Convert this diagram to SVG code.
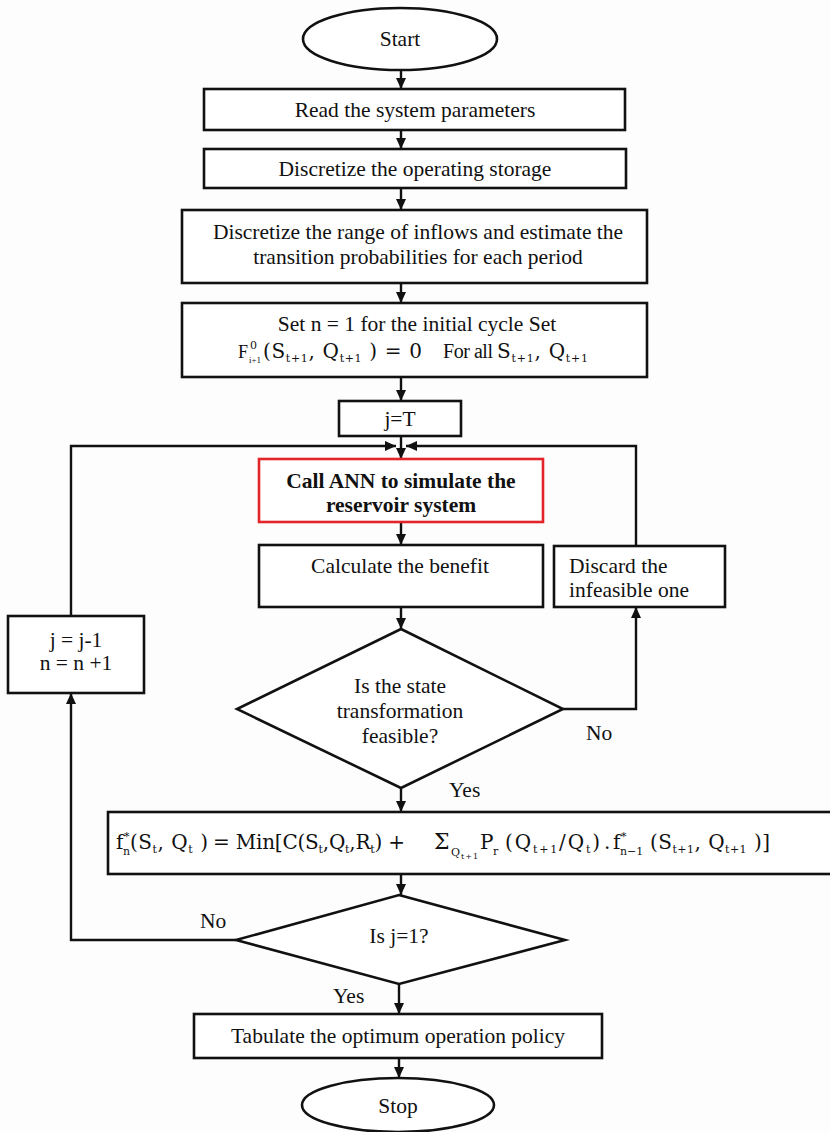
<svg xmlns="http://www.w3.org/2000/svg" width="830" height="1132" viewBox="0 0 830 1132">
<style>
.bg{fill:#fdfdfd}
.box{fill:#fff;stroke:#111;stroke-width:2.6}
.red{fill:#fff;stroke:#e3252b;stroke-width:2.6}
.ln{fill:none;stroke:#111;stroke-width:2.4}
.t{font-family:"Liberation Serif","Times New Roman",serif;font-size:21.5px;fill:#111}
.c{text-anchor:middle}
.b{font-weight:bold}
.m{font-family:"DejaVu Serif","Liberation Serif",serif;font-size:20px;fill:#111}
.m2{font-family:"DejaVu Serif","Liberation Serif",serif;font-size:20px;fill:#111}
.s{font-size:11px}
.ss{font-size:11px}
</style>
<defs>
<marker id="ah" markerUnits="userSpaceOnUse" markerWidth="12" markerHeight="12" refX="11" refY="6" orient="auto">
<path d="M0,1 L11,6 L0,11 z" fill="#111"/>
</marker>
</defs>
<rect class="bg" x="0" y="0" width="830" height="1132"/>

<g id="connectors">
<path class="ln" d="M401,70 L401,89" marker-end="url(#ah)"/>
<path class="ln" d="M401,130 L401,149" marker-end="url(#ah)"/>
<path class="ln" d="M401,188 L401,210" marker-end="url(#ah)"/>
<path class="ln" d="M401,283 L401,303" marker-end="url(#ah)"/>
<path class="ln" d="M401,377 L401,401" marker-end="url(#ah)"/>
<path class="ln" d="M401,436 L401,459" marker-end="url(#ah)"/>
<path class="ln" d="M71,616 L71,446 L396,446" marker-end="url(#ah)"/>
<path class="ln" d="M636,546 L636,446 L406,446" marker-end="url(#ah)"/>
<path class="ln" d="M401,522 L401,545" marker-end="url(#ah)"/>
<path class="ln" d="M401,607 L401,629" marker-end="url(#ah)"/>
<path class="ln" d="M563,709 L636,709 L636,607" marker-end="url(#ah)"/>
<path class="ln" d="M401,788 L401,812" marker-end="url(#ah)"/>
<path class="ln" d="M401,874 L401,895" marker-end="url(#ah)"/>
<path class="ln" d="M236,940 L71,940 L71,693" marker-end="url(#ah)"/>
<path class="ln" d="M399,984 L399,1014" marker-end="url(#ah)"/>
<path class="ln" d="M399,1058 L399,1078" marker-end="url(#ah)"/>
</g>

<g id="start">
<ellipse class="box" cx="400" cy="39" rx="97" ry="31"/>
<text class="t c" x="400" y="46">Start</text>
</g>
<g id="read">
<rect class="box" x="204" y="89" width="421" height="41"/>
<text class="t c" x="415" y="117">Read the system parameters</text>
</g>
<g id="storage">
<rect class="box" x="204" y="149" width="422" height="39"/>
<text class="t c" x="415" y="176">Discretize the operating storage</text>
</g>
<g id="range">
<rect class="box" x="182" y="210" width="465" height="73"/>
<text class="t c" x="418" y="239">Discretize the range of inflows and estimate the</text>
<text class="t c" x="418" y="264">transition probabilities for each period</text>
</g>
<g id="setn">
<rect class="box" x="182" y="303" width="465" height="74"/>
<text class="t c" x="417" y="331">Set n = 1 for the initial cycle Set</text>
<text class="t" x="238" y="358" style="font-size:18px">F</text>
<text class="m2 ss" x="250" y="349">0</text>
<text class="t" x="249" y="363" style="font-size:9px">i+1</text>
<text class="m2" x="263" y="358" textLength="159" lengthAdjust="spacing">(S<tspan class="ss" dy="4">t+1</tspan><tspan dy="-4">, Q</tspan><tspan class="ss" dy="4">t+1</tspan><tspan dy="-4"> ) = 0</tspan></text>
<text class="t" x="443" y="358" style="font-size:20px" textLength="50" lengthAdjust="spacing">For all</text>
<text class="m2" x="497" y="358" textLength="91" lengthAdjust="spacing">S<tspan class="ss" dy="4">t+1</tspan><tspan dy="-4">, Q</tspan><tspan class="ss" dy="4">t+1</tspan></text>
</g>
<g id="jt">
<rect class="box" x="339" y="401" width="122" height="35"/>
<text class="t c" x="400" y="426">j=T</text>
</g>
<g id="ann">
<rect class="red" x="259" y="459" width="284" height="63"/>
<text class="t c b" x="401" y="488">Call ANN to simulate the</text>
<text class="t c b" x="401" y="512">reservoir system</text>
</g>
<g id="calc">
<rect class="box" x="259" y="545" width="284" height="62"/>
<text class="t c" x="400" y="573">Calculate the benefit</text>
</g>
<g id="discard">
<rect class="box" x="554" y="546" width="171" height="61"/>
<text class="t" x="569" y="573">Discard the</text>
<text class="t" x="569" y="597">infeasible one</text>
</g>
<g id="update">
<rect class="box" x="8" y="616" width="136" height="77"/>
<text class="t c" x="76" y="647">j = j-1</text>
<text class="t c" x="76" y="670">n = n +1</text>
</g>
<g id="feasible">
<polygon class="box" points="401,629 563,709 401,788 237,709"/>
<text class="t c" x="400" y="693">Is the state</text>
<text class="t c" x="400" y="718">transformation</text>
<text class="t c" x="400" y="743">feasible?</text>
<text class="t" x="586" y="740">No</text>
<text class="t" x="449" y="797">Yes</text>
</g>
<g id="formula">
<rect class="box" x="108" y="812" width="730" height="62"/>
<text class="m" x="116" y="849">f</text>
<text class="m s" x="124" y="840">*</text>
<text class="m s" x="123" y="855">n</text>
<text class="m" x="130" y="849" textLength="78" lengthAdjust="spacing">(S<tspan class="s" dy="4">t</tspan><tspan dy="-4">, Q</tspan><tspan class="s" dy="4">t</tspan><tspan dy="-4"> )</tspan></text>
<text class="m" x="213" y="849" textLength="192" lengthAdjust="spacing">= Min[C(S<tspan class="s" dy="4">t</tspan><tspan dy="-4">,Q</tspan><tspan class="s" dy="4">t</tspan><tspan dy="-4">,R</tspan><tspan class="s" dy="4">t</tspan><tspan dy="-4">) +</tspan></text>
<text class="m" x="434" y="849" style="font-size:22px">Σ</text>
<text class="m s" x="451" y="856" textLength="27" lengthAdjust="spacing">Q<tspan style="font-size:8px" dy="3">t+1</tspan></text>
<text class="m" x="480" y="849">P</text>
<text class="m s" x="493" y="855">r</text>
<text class="m" x="505" y="849" textLength="95" lengthAdjust="spacing">(Q<tspan class="s" dy="4">t+1</tspan><tspan dy="-4">/Q</tspan><tspan class="s" dy="4">t</tspan><tspan dy="-4">)</tspan></text>
<text class="m" x="604" y="849">.</text>
<text class="m" x="613" y="849">f</text>
<text class="m s" x="621" y="840">*</text>
<text class="m s" x="620" y="855">n−1</text>
<text class="m" x="650" y="849" textLength="120" lengthAdjust="spacing">(S<tspan class="s" dy="4">t+1</tspan><tspan dy="-4">, Q</tspan><tspan class="s" dy="4">t+1</tspan><tspan dy="-4"> )]</tspan></text>
</g>
<g id="isj1">
<polygon class="box" points="399,895 565,940 399,984 236,940"/>
<text class="t c" x="399" y="943">Is j=1?</text>
<text class="t" x="200" y="928">No</text>
<text class="t" x="333" y="1003">Yes</text>
</g>
<g id="tabulate">
<rect class="box" x="194" y="1014" width="408" height="44"/>
<text class="t c" x="398" y="1043">Tabulate the optimum operation policy</text>
</g>
<g id="stop">
<ellipse class="box" cx="398" cy="1105" rx="96" ry="27"/>
<text class="t c" x="398" y="1113">Stop</text>
</g>
</svg>
